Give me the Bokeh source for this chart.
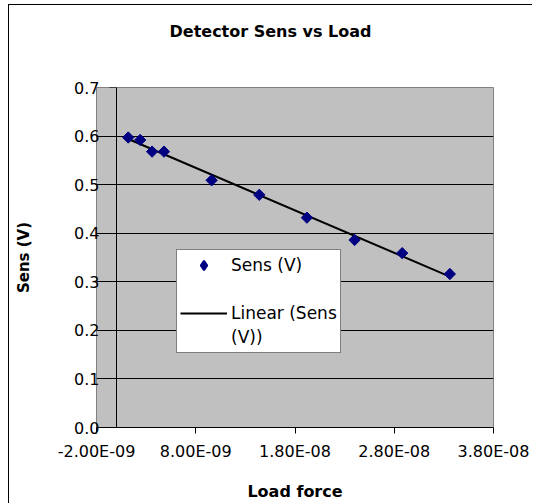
import numpy as np
from bokeh.plotting import figure
from bokeh.models import (Range1d, LinearAxis, FixedTicker, Grid, Legend, LegendItem,
                          CustomJSTickFormatter, Title)
from bokeh.embed import file_html
from bokeh.resources import INLINE

# ---- data ----
load_force = [1.2e-9, 2.4e-9, 3.6e-9, 4.8e-9, 9.6e-9, 1.44e-8, 1.92e-8, 2.40e-8, 2.88e-8, 3.36e-8]
sens_v = [0.597, 0.592, 0.568, 0.568, 0.509, 0.479, 0.432, 0.386, 0.359, 0.316]

x_tick_values = [-2e-9, 8e-9, 1.8e-8, 2.8e-8, 3.8e-8]
x_tick_labels = ["-2.00E-09", "8.00E-09", "1.80E-08", "2.80E-08", "3.80E-08"]
y_tick_values = [0.0, 0.1, 0.2, 0.3, 0.4, 0.5, 0.6, 0.7]
y_tick_labels = ["0.0", "0.1", "0.2", "0.3", "0.4", "0.5", "0.6", "0.7"]

title_text = "Detector Sens vs Load"
x_title = "Load force"
y_title = "Sens (V)"
series_name = "Sens (V)"
trend_name_lines = ["Linear (Sens", "(V))"]

FONT = "DejaVu Sans"

# linear trendline (least squares fit of the series, as the spreadsheet does)
coef = np.polyfit(load_force, sens_v, 1)
trend_x = [min(load_force), max(load_force)]
trend_y = list(np.polyval(coef, trend_x))

nearest_code = """
let best = 0;
for (let i = 1; i < vals.length; i++) {
  if (Math.abs(vals[i] - tick) < Math.abs(vals[best] - tick)) best = i;
}
return labels[best];
"""

p = figure(width=524, height=499,
           x_range=Range1d(x_tick_values[0], x_tick_values[-1]),
           y_range=Range1d(y_tick_values[0], y_tick_values[-1]),
           output_backend="svg", toolbar_location=None,
           min_border_left=87, min_border_right=40,
           min_border_top=82, min_border_bottom=77,
           background_fill_color="#c0c0c0", border_fill_color="white",
           outline_line_color="#808080", outline_line_width=1)

p.styles = {"margin-left": "8px", "margin-top": "4px",
            "border-left": "1px solid black", "border-top": "1px solid black"}

# chart title (outermost panel) plus an empty spacer panel between it and the plot area
p.title = Title(text=title_text, align="left", offset=73, standoff=20,
                text_font=FONT, text_font_size="16px", text_font_style="bold",
                text_color="black")
p.add_layout(Title(text=" ", standoff=16, text_font=FONT, text_font_size="16px"), "above")

for g in p.grid:
    g.visible = False

# x axis
xa = p.xaxis[0]
xa.ticker = FixedTicker(ticks=x_tick_values)
xa.formatter = CustomJSTickFormatter(args=dict(vals=x_tick_values, labels=x_tick_labels),
                                     code=nearest_code)
xa.major_tick_in = 0
xa.major_tick_out = 6
xa.minor_tick_line_color = None
xa.axis_line_color = "black"
xa.major_tick_line_color = "black"
xa.major_label_standoff = 8
xa.major_label_text_font = FONT
xa.major_label_text_font_size = "16px"
xa.major_label_text_color = "black"
xa.axis_label = x_title
xa.axis_label_text_font = FONT
xa.axis_label_text_font_size = "16px"
xa.axis_label_text_font_style = "bold"
xa.axis_label_text_color = "black"
xa.axis_label_standoff = 18

# y axis labels at the frame edge (the axis line itself crosses at x = 0)
yl = p.yaxis[0]
yl.ticker = FixedTicker(ticks=y_tick_values)
yl.formatter = CustomJSTickFormatter(args=dict(vals=y_tick_values, labels=y_tick_labels),
                                     code=nearest_code)
yl.major_tick_in = 0
yl.major_tick_out = 0
yl.minor_tick_line_color = None
yl.major_tick_line_color = None
yl.axis_line_color = None
yl.major_label_standoff = -3
yl.major_label_text_font = FONT
yl.major_label_text_font_size = "16px"
yl.major_label_text_color = "black"
yl.axis_label = y_title
yl.axis_label_text_font = FONT
yl.axis_label_text_font_size = "15px"
yl.axis_label_text_font_style = "bold"
yl.axis_label_text_color = "black"
yl.axis_label_standoff = 38

# vertical axis line with its outward ticks at x = 0
ya = LinearAxis(fixed_location=0, ticker=FixedTicker(ticks=y_tick_values))
ya.major_tick_in = 0
ya.major_tick_out = 7
ya.minor_tick_line_color = None
ya.axis_line_color = "black"
ya.major_tick_line_color = "black"
ya.major_label_text_alpha = 0
ya.major_label_text_font_size = "1px"
p.add_layout(ya, "left")

# horizontal gridlines
p.add_layout(Grid(dimension=1, ticker=FixedTicker(ticks=y_tick_values[1:-1]),
                  grid_line_color="black", grid_line_width=1))

# trendline
r_line = p.line(trend_x, trend_y, line_color="black", line_width=2)

# legend key for the series: a diamond on the first point, hidden under that point's marker
r_key = p.scatter(x=load_force[:1], y=sens_v[:1], marker="diamond", size=8,
                  fill_color="#000080", line_color="#000080", line_width=2)

# series markers (diamonds)
r_pts = p.scatter(x=load_force, y=sens_v, marker="square", angle=np.pi / 4, size=8,
                  fill_color="#000080", line_color="#000080")

# helpers used only for the legend rows (no data, nothing drawn)
r_blank = p.line(x=[], y=[], line_alpha=0)
r_cont = p.line(x=[], y=[], line_alpha=0)

legend = Legend(items=[LegendItem(label=series_name, renderers=[r_key]),
                       LegendItem(label=" ", renderers=[r_blank]),
                       LegendItem(label=trend_name_lines[0], renderers=[r_line]),
                       LegendItem(label=trend_name_lines[1], renderers=[r_cont])],
                location=(80, 74), padding=3, spacing=0, margin=0,
                label_height=24, glyph_height=24, glyph_width=47, label_standoff=4,
                label_text_font=FONT, label_text_font_size="17px", label_text_color="black",
                border_line_color="black", border_line_width=1,
                background_fill_color="white", background_fill_alpha=1)
p.add_layout(legend)

open("out.html", "w").write(file_html(p, INLINE))
